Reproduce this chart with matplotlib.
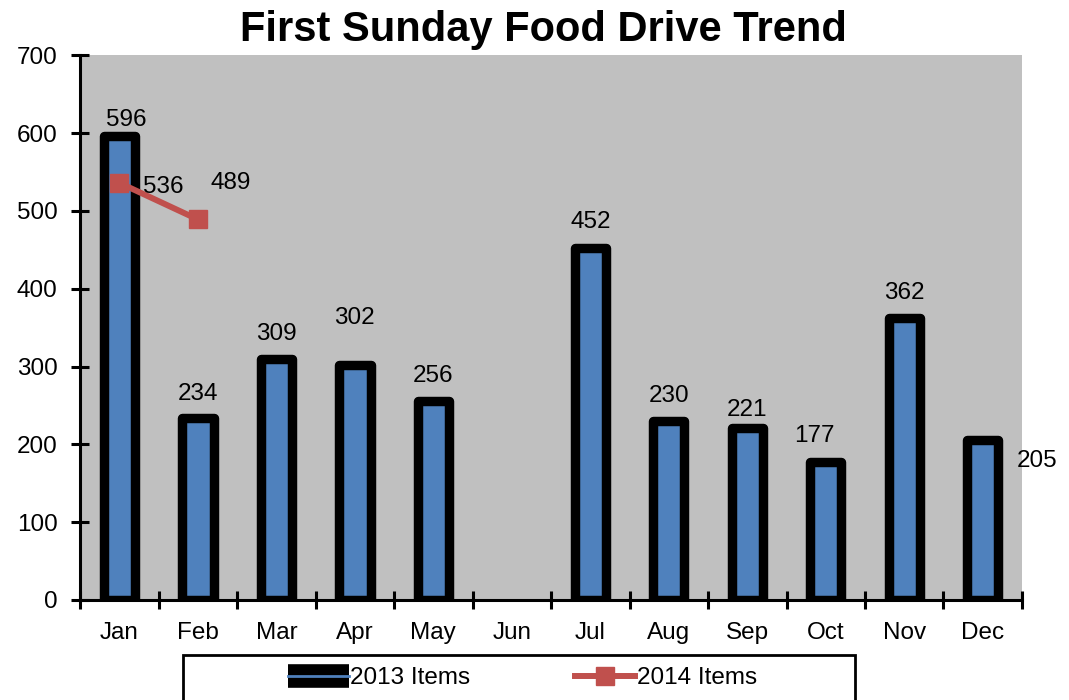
import numpy as np
import matplotlib.pyplot as plt
from matplotlib.lines import Line2D
from matplotlib.patches import Rectangle
from matplotlib.legend_handler import HandlerTuple

plt.rcParams['font.family'] = ['Liberation Sans', 'DejaVu Sans']

months = ['Jan', 'Feb', 'Mar', 'Apr', 'May', 'Jun',
          'Jul', 'Aug', 'Sep', 'Oct', 'Nov', 'Dec']
items_2013 = [596, 234, 309, 302, 256, np.nan, 452, 230, 221, 177, 362, 205]
items_2014 = [536, 489]

# label offsets in pixels (dx, dy) for each value
offs_2013 = [(7, 16), (0, 24), (0, 25), (0, 47), (0, 25), (0, 0),
             (0, 26), (0, 25), (0, 18), (-11, 26), (0, 25), (54, -21)]
offs_2014 = [(44, -4), (33, 36)]

FS = 17.5
fig = plt.figure(figsize=(10.69, 7), dpi=100)
ax = fig.add_axes([0.075, 0.143, 0.881, 0.778])
ax.set_facecolor('#C0C0C0')

x = np.arange(len(months))
ax.bar(x, items_2013, width=0.40, color='#4F81BD', edgecolor='black',
       linewidth=6.8, joinstyle='round', zorder=2)
ax.plot(x[:len(items_2014)], items_2014, color='#C0504D', lw=4.3, marker='s',
        ms=13, zorder=3)

px = 0.72
for xi, v, (dx, dy) in zip(x, items_2013, offs_2013):
    if np.isnan(v):
        continue
    ax.annotate(f'{int(v)}', (xi, v), xytext=(dx * px, dy * px),
                textcoords='offset points', ha='center', va='center',
                fontsize=FS, zorder=4)
for xi, v, (dx, dy) in zip(x, items_2014, offs_2014):
    ax.annotate(f'{v}', (xi, v), xytext=(dx * px, dy * px),
                textcoords='offset points', ha='center', va='center',
                fontsize=FS, zorder=4)

ax.set_xlim(-0.5, 11.5)
ax.set_ylim(0, 700)
ax.set_yticks(range(0, 701, 100))
ax.set_xticks(x)
ax.set_xticklabels(months)
ax.set_xticks(np.arange(-0.5, 12, 1), minor=True)
ax.tick_params(axis='x', which='major', length=0, pad=16, labelsize=FS)
ax.tick_params(axis='x', which='minor', direction='inout', length=12.5, width=2.2)
ax.tick_params(axis='y', direction='inout', length=12.5, width=2.2,
               labelsize=FS, pad=10)
for s in ['top', 'right']:
    ax.spines[s].set_visible(False)
for s in ['left', 'bottom']:
    ax.spines[s].set_linewidth(2.2)

fig.suptitle('First Sunday Food Drive Trend', fontsize=30, fontweight='bold',
             x=0.508, y=0.985)

# legend box drawn separately (extends past the bottom edge)
fig.patches.append(Rectangle((183 / 1069, -0.01), (855 - 183) / 1069,
                             (700 - 655) / 700 + 0.01,
                             transform=fig.transFigure, fill=False,
                             edgecolor='black', linewidth=2))
h13 = (Line2D([], [], color='black', lw=17, solid_capstyle='butt'),
       Line2D([], [], color='#4F81BD', lw=2))
h14 = Line2D([], [], color='#C0504D', lw=4.3, marker='s', ms=13)
fig.legend([h13, h14], ['2013 Items', '2014 Items'], ncol=2,
           loc='center left', bbox_to_anchor=(288 / 1069, 1 - 678 / 700),
           fontsize=FS, frameon=False,
           handler_map={tuple: HandlerTuple(ndivide=1, pad=0)},
           handlelength=2.5, handletextpad=0.05,
           columnspacing=4.3, borderpad=0, borderaxespad=0)

fig.savefig('out.png', dpi=100)
